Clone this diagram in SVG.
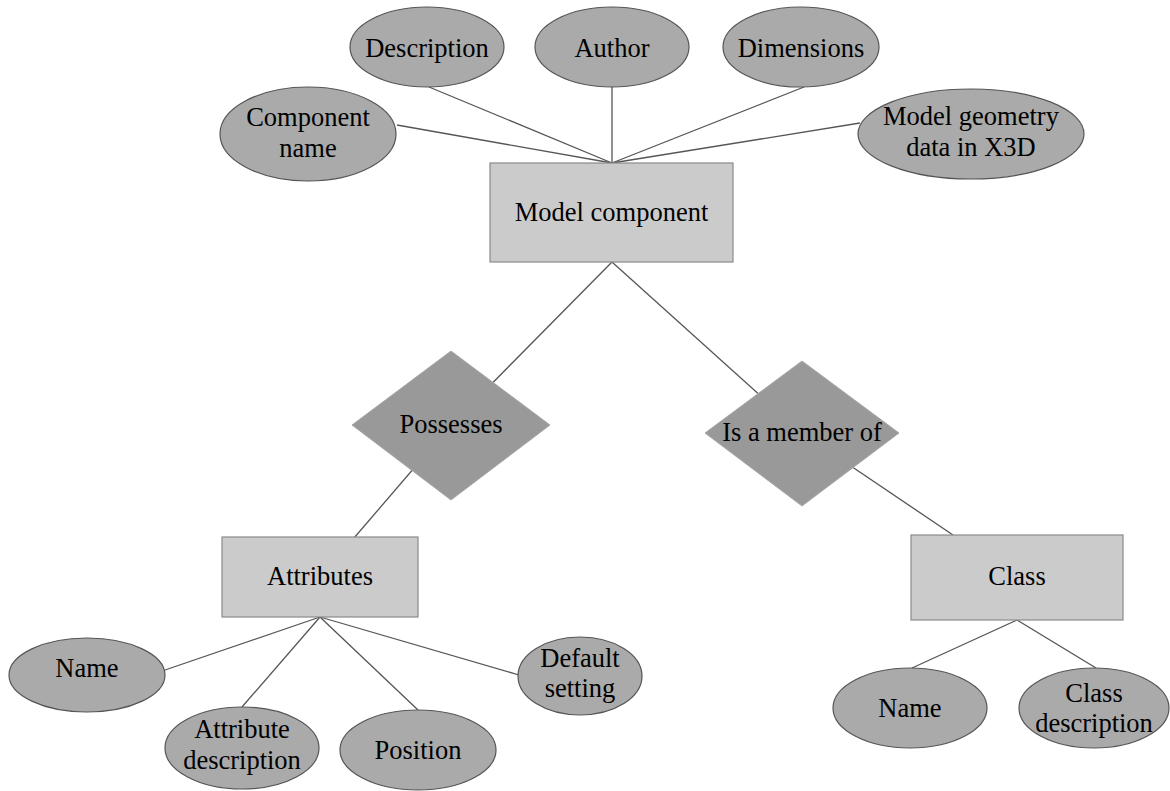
<svg xmlns="http://www.w3.org/2000/svg" width="1170" height="791" viewBox="0 0 1170 791" font-family="'Liberation Serif', 'DejaVu Serif', serif">
  <style>
    .attr { fill: #aaaaaa; stroke: #555555; stroke-width: 1.2; }
    .entity { fill: #cbcbcb; stroke: #8a8a8a; stroke-width: 1.2; }
    .rel { fill: #999999; stroke: #a8a8a8; stroke-width: 1; }
    .link { stroke: #555555; stroke-width: 1.3; fill: none; }
    text { font-family: 'Liberation Serif', 'DejaVu Serif', serif; font-size: 26.5px; fill: #000000; text-anchor: middle; }
  </style>
  <rect width="1170" height="791" fill="#ffffff"/>

  <!-- connectors, drawn beneath the shapes -->
  <g id="connectors">
    <line class="link" x1="612" y1="163" x2="397" y2="125"/>
    <line class="link" x1="612" y1="163" x2="429" y2="87"/>
    <line class="link" x1="612" y1="163" x2="612" y2="87"/>
    <line class="link" x1="612" y1="163" x2="804" y2="87"/>
    <line class="link" x1="612" y1="163" x2="860" y2="123"/>
    <line class="link" x1="612" y1="262" x2="451" y2="425"/>
    <line class="link" x1="612" y1="262" x2="802" y2="433"/>
    <line class="link" x1="451" y1="425" x2="354" y2="538"/>
    <line class="link" x1="802" y1="433" x2="953" y2="535"/>
    <line class="link" x1="320" y1="617" x2="165" y2="670"/>
    <line class="link" x1="320" y1="617" x2="242" y2="707"/>
    <line class="link" x1="320" y1="617" x2="418" y2="710"/>
    <line class="link" x1="320" y1="617" x2="519" y2="675"/>
    <line class="link" x1="1017" y1="620" x2="912" y2="668"/>
    <line class="link" x1="1017" y1="620" x2="1096" y2="668"/>
  </g>

  <!-- model component and its attributes -->
  <g id="model-component">
    <rect class="entity" x="490" y="163" width="243" height="99"/>
    <text x="611.5" y="221">Model component</text>
  </g>
  <g id="component-name">
    <ellipse class="attr" cx="308" cy="134" rx="88" ry="47"/>
    <text x="308" y="126">Component</text>
    <text x="308" y="157">name</text>
  </g>
  <g id="description">
    <ellipse class="attr" cx="427" cy="47" rx="77" ry="40"/>
    <text x="427" y="57">Description</text>
  </g>
  <g id="author">
    <ellipse class="attr" cx="612" cy="47" rx="77" ry="40"/>
    <text x="612" y="57">Author</text>
  </g>
  <g id="dimensions">
    <ellipse class="attr" cx="801" cy="47" rx="78" ry="40"/>
    <text x="801" y="57">Dimensions</text>
  </g>
  <g id="model-geometry">
    <ellipse class="attr" cx="971" cy="134" rx="113" ry="45"/>
    <text x="971" y="125">Model geometry</text>
    <text x="971" y="156">data in X3D</text>
  </g>

  <!-- relationships -->
  <g id="possesses">
    <polygon class="rel" points="451,351 550,425 451,500 352,425"/>
    <text x="451" y="433">Possesses</text>
  </g>
  <g id="is-a-member-of">
    <polygon class="rel" points="802,361 899,433 802,506 705,433"/>
    <text x="802" y="441">Is a member of</text>
  </g>

  <!-- attributes entity -->
  <g id="attributes">
    <rect class="entity" x="222" y="537" width="196" height="80"/>
    <text x="320" y="585">Attributes</text>
  </g>
  <g id="attr-name">
    <ellipse class="attr" cx="87" cy="675" rx="78" ry="37"/>
    <text x="87" y="677">Name</text>
  </g>
  <g id="attribute-description">
    <ellipse class="attr" cx="242" cy="748" rx="77" ry="41"/>
    <text x="242" y="738">Attribute</text>
    <text x="242" y="769">description</text>
  </g>
  <g id="position">
    <ellipse class="attr" cx="418" cy="750" rx="78" ry="40"/>
    <text x="418" y="759">Position</text>
  </g>
  <g id="default-setting">
    <ellipse class="attr" cx="580" cy="676" rx="62" ry="39"/>
    <text x="580" y="667">Default</text>
    <text x="580" y="697">setting</text>
  </g>

  <!-- class entity -->
  <g id="class">
    <rect class="entity" x="911" y="535" width="212" height="85"/>
    <text x="1017" y="585">Class</text>
  </g>
  <g id="class-name">
    <ellipse class="attr" cx="910" cy="708" rx="77" ry="40"/>
    <text x="910" y="717">Name</text>
  </g>
  <g id="class-description">
    <ellipse class="attr" cx="1094" cy="708" rx="75" ry="40"/>
    <text x="1094" y="702">Class</text>
    <text x="1094" y="732">description</text>
  </g>
</svg>
